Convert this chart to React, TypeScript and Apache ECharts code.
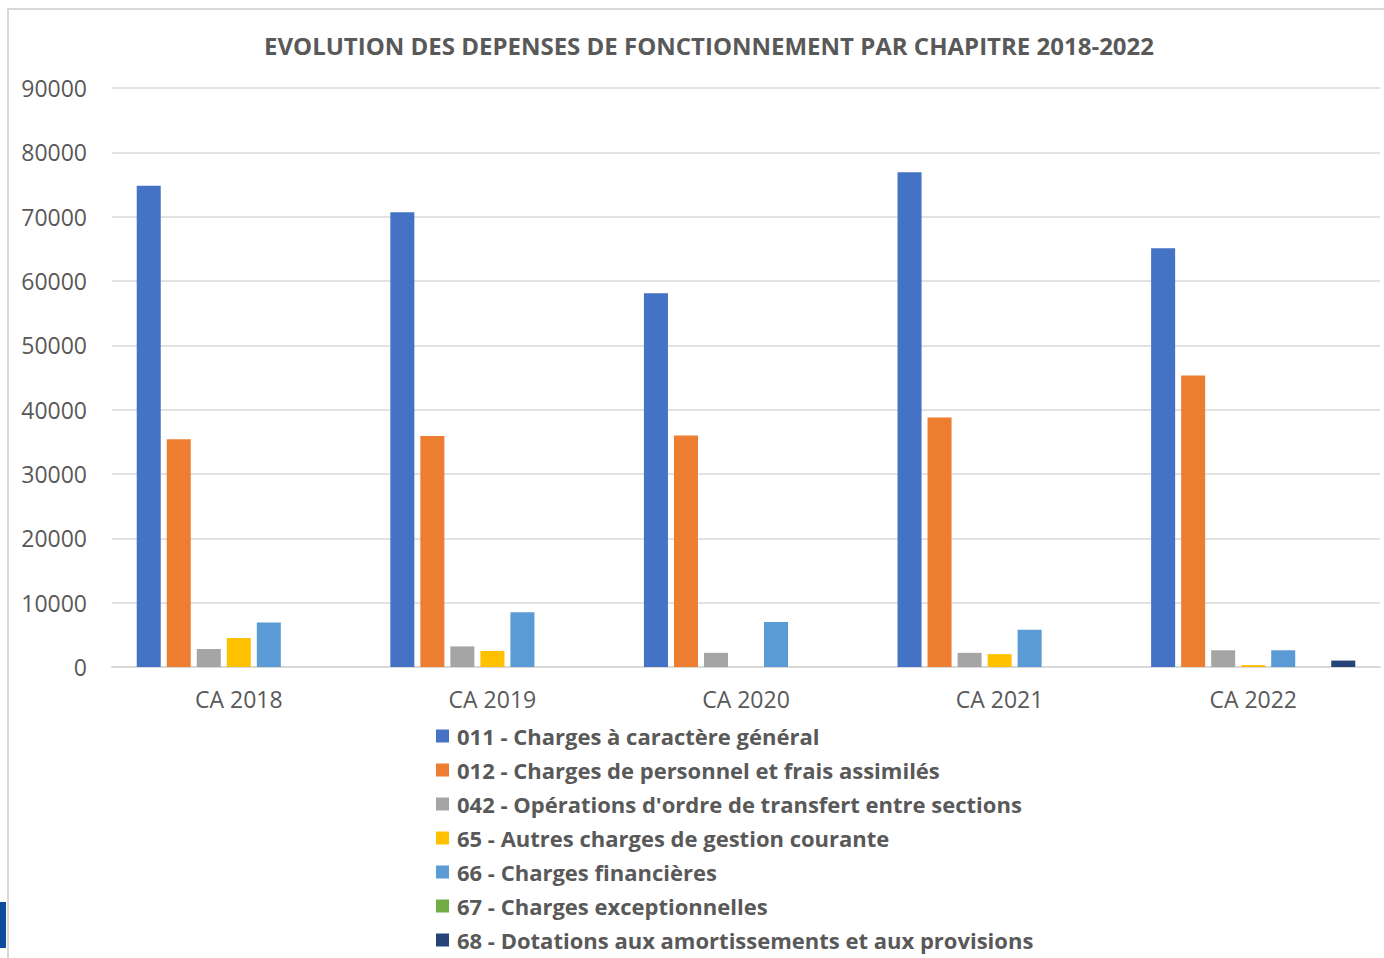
import React, { useEffect, useRef } from "react";
import * as echarts from "echarts";

const categories = ["CA 2018", "CA 2019", "CA 2020", "CA 2021", "CA 2022"];
const seriesNames = [
  "011 - Charges à caractère général",
  "012 - Charges de personnel et frais assimilés",
  "042 - Opérations d'ordre de transfert entre sections",
  "65 - Autres charges de gestion courante",
  "66 - Charges financières",
  "67 - Charges exceptionnelles",
  "68 - Dotations aux amortissements et aux provisions",
];
const s011 = [74800, 70700, 58100, 76900, 65100];
const s012 = [35400, 35900, 36000, 38800, 45300];
const s042 = [2800, 3200, 2200, 2200, 2600];
const s65 = [4500, 2500, null, 2000, 300];
const s66 = [6900, 8500, 7000, 5800, 2600];
const s67 = [null, null, null, null, null];
const s68 = [null, null, null, null, 1000];
const seriesValues = [s011, s012, s042, s65, s66, s67, s68];
const colors = ["#4472C4", "#ED7D31", "#A5A5A5", "#FFC000", "#5B9BD5", "#70AD47", "#264478"];
const yTicks = [0, 10000, 20000, 30000, 40000, 50000, 60000, 70000, 80000, 90000];

const FONT = "'Open Sans', sans-serif";

export default function App() {
  const ref = useRef<HTMLDivElement>(null);
  useEffect(() => {
    if (!ref.current) return;
    const chart = echarts.init(ref.current, null, { renderer: "svg" });
    chart.setOption({
      animation: false,
      backgroundColor: "#ffffff",
      color: colors,
      title: {
        text: "EVOLUTION DES DEPENSES DE FONCTIONNEMENT PAR CHAPITRE 2018-2022",
        left: 704,
        textAlign: "center",
        top: 28,
        textStyle: { fontFamily: FONT, fontSize: 24, fontWeight: "bold", color: "#595959" },
      },
      graphic: [
        {
          type: "rect",
          shape: { x: 8, y: 9, width: 1400, height: 1000 },
          style: { fill: "none", stroke: "#d9d9d9", lineWidth: 2 },
          silent: true,
        },
        {
          type: "rect",
          shape: { x: 0, y: 902, width: 6, height: 46 },
          style: { fill: "#0B4C9C" },
          silent: true,
        },
      ],
      legend: {
        orient: "vertical",
        left: 431,
        top: 720,
        height: 400,
        padding: 5,
        icon: "rect",
        itemWidth: 13,
        itemHeight: 13,
        itemGap: 12,
        textStyle: {
          fontFamily: FONT,
          fontSize: 22,
          fontWeight: "bold",
          color: "#595959",
          lineHeight: 22,
          padding: [0, 0, 0, 3],
        },
        data: seriesNames,
      },
      grid: { left: 112, right: 4, top: 88, bottom: 291, containLabel: false },
      xAxis: {
        type: "category",
        data: categories,
        axisLine: { lineStyle: { color: "#d9d9d9", width: 2 } },
        axisTick: { show: false },
        axisLabel: { fontFamily: FONT, fontSize: 23, color: "#595959", margin: 20 },
      },
      yAxis: {
        type: "value",
        min: 0,
        max: 90000,
        interval: 10000,
        axisLine: { show: false },
        axisTick: { show: false },
        axisLabel: {
          fontFamily: FONT,
          fontSize: 23,
          color: "#595959",
          margin: 25,
          formatter: (v: number) => (yTicks.includes(v) ? String(v) : ""),
        },
        splitLine: { lineStyle: { color: "#d9d9d9", width: 1.5 } },
      },
      series: seriesNames.map((name, i) => ({
        name,
        type: "bar",
        data: seriesValues[i],
        barCategoryGap: "19.5%",
        barGap: "25%",
        itemStyle: { color: colors[i] },
      })),
    });
    return () => chart.dispose();
  }, []);
  return (
    <div style={{ position: "fixed", left: 0, top: 0, width: 1384, height: 958, overflow: "hidden" }}>
      <div ref={ref} style={{ width: 1384, height: 958 }} />
    </div>
  );
}
